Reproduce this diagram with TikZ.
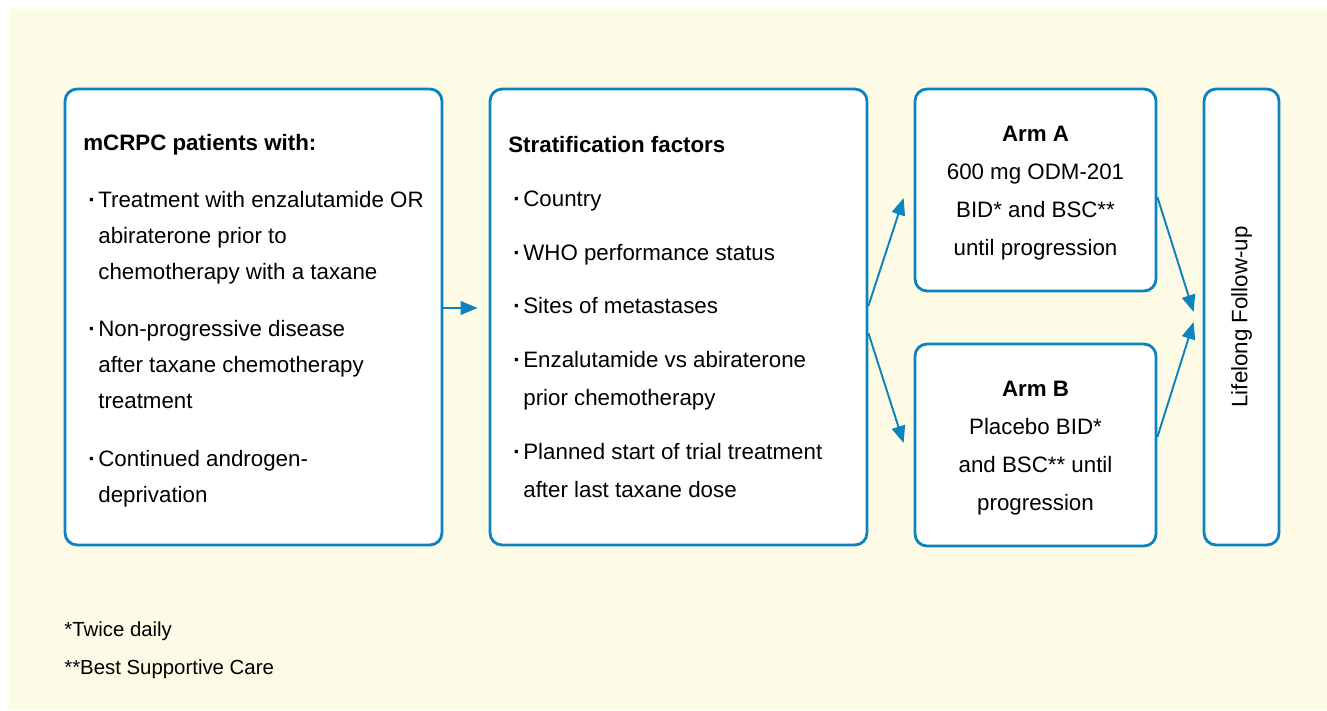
\documentclass[tikz,border=0pt]{standalone}
\usepackage{fontspec}
\setmainfont{Liberation Sans}
\usepackage{xcolor}
\usetikzlibrary{arrows.meta}
\definecolor{cream}{HTML}{FDFBE6}
\definecolor{trialblue}{HTML}{0A83BF}
\newcommand{\bul}{\hspace*{0.1cm}\makebox[0.2cm][l]{\textbf{·}}}
\newcommand{\ind}{\hspace*{0.3cm}}

\begin{document}
\begin{tikzpicture}[x=0.02cm, y=-0.02cm,
    box/.style={shape=rectangle, draw=trialblue, line width=1.6pt, rounded corners=0.24cm, fill=white, inner sep=0pt},
    txt/.style={inner sep=0pt, font=\fontsize{12.7}{20.4}\selectfont},
    arr/.style={draw=trialblue, line width=1.1pt, -{Triangle[length=0.34cm,width=0.27cm]}}]
    \useasboundingbox (0,0) rectangle (1327,710);
    \fill[cream] (9,9) rectangle (1327,710);

    % boxes
    \node[box, minimum width=7.54cm, minimum height=9.12cm] (pat) at (253.5,317) {};
    \node[box, minimum width=7.54cm, minimum height=9.12cm] (strat) at (678.5,317) {};
    \node[box, minimum width=4.82cm, minimum height=4.04cm] (armA) at (1035.5,190) {};
    \node[box, minimum width=4.82cm, minimum height=4.04cm] (armB) at (1035.5,445) {};
    \node[box, minimum width=1.5cm, minimum height=9.12cm] (fu) at (1241.5,317) {};

    % texts
    \node[txt, anchor=north west, align=left] (pattxt) at (83,134) {\textbf{mCRPC patients with:}\\[12pt]
        \bul Treatment with enzalutamide OR\\ \ind abiraterone prior to\\ \ind chemotherapy with a taxane\\[12.5pt]
        \bul Non-progressive disease\\ \ind after taxane chemotherapy\\ \ind treatment\\[12.5pt]
        \bul Continued androgen-\\ \ind deprivation};
    \node[txt, anchor=north west, align=left, font=\fontsize{12.7}{21.6}\selectfont] (strattxt) at (508,136) {\textbf{Stratification factors}\\[9pt]
        \bul Country\\[9pt]
        \bul WHO performance status\\[9pt]
        \bul Sites of metastases\\[9pt]
        \bul Enzalutamide vs abiraterone\\ \ind prior chemotherapy\\[9pt]
        \bul Planned start of trial treatment\\ \ind after last taxane dose};
    \node[txt, align=center, font=\fontsize{12.7}{21.5}\selectfont] (armAtxt) at ([yshift=-0.06cm]armA) {\textbf{Arm A}\\600 mg ODM-201\\BID* and BSC**\\until progression};
    \node[txt, align=center, font=\fontsize{12.7}{21.5}\selectfont] (armBtxt) at ([yshift=-0.06cm]armB) {\textbf{Arm B}\\Placebo BID*\\and BSC** until\\progression};
    \node[txt, rotate=90] (futxt) at (fu) {Lifelong Follow-up};
    \node[txt, anchor=north west, align=left, font=\fontsize{11.6}{22}\selectfont] (notes) at (64,621) {*Twice daily\\**Best Supportive Care};

    % arrows
    \draw[arr, shorten >=0.22cm] ([yshift=0.18cm]pat.east) -- ([yshift=0.18cm]strat.west);
    \draw[arr] ([yshift=0.22cm]strat.east) -- ([xshift=-0.2cm, yshift=-0.16cm]armA.west);
    \draw[arr] ([yshift=-0.32cm]strat.east) -- ([xshift=-0.2cm, yshift=0.04cm]armB.west);
    \draw[arr] ([yshift=-0.14cm]armA.east) -- ([xshift=-0.18cm, yshift=0.1cm]fu.west);
    \draw[arr] ([yshift=0.16cm]armB.east) -- ([xshift=-0.18cm, yshift=-0.1cm]fu.west);
\end{tikzpicture}
\end{document}
